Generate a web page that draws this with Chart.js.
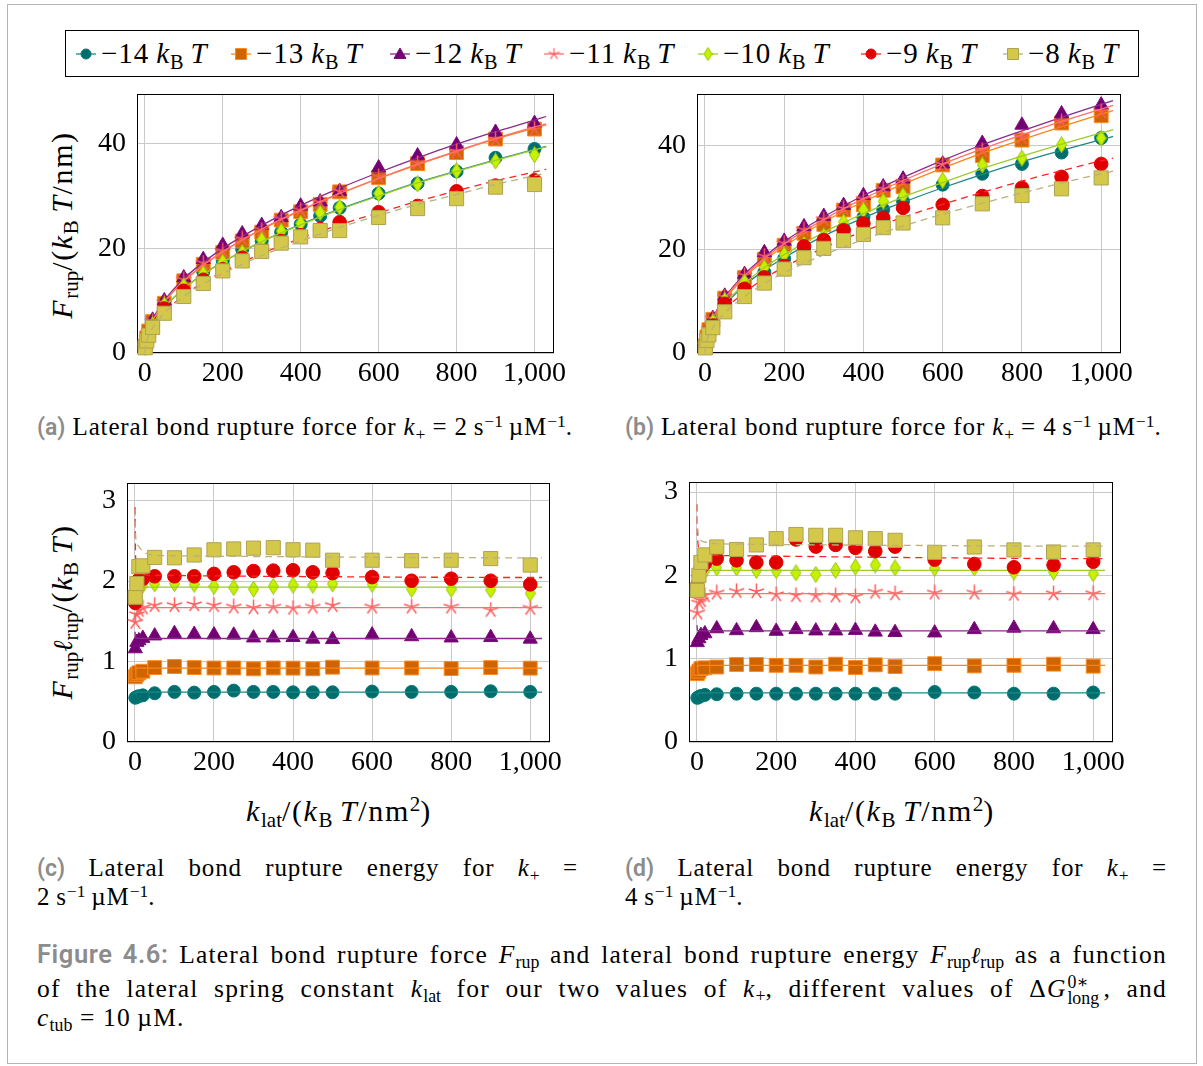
<!DOCTYPE html>
<html>
<head>
<meta charset="utf-8">
<script src="https://cdn.jsdelivr.net/npm/chart.js"></script>
<style>
  body { margin:0; width:1203px; height:1066px; position:relative; overflow:hidden; background:#fff;
         font-family:"Liberation Serif","DejaVu Serif",serif; color:#000; }
  .frame { position:absolute; left:7px; top:4px; width:1188px; height:1058px; border:1px solid #b4b4b4; }
  .legend { position:absolute; left:65px; top:30px; width:1072px; height:45px; border:1px solid #000; }
  .item { position:absolute; top:0; height:45px; display:flex; align-items:center; font-size:29px; letter-spacing:1px; white-space:nowrap; }
  .item canvas { margin-right:3px; }
  sub, sup { font-size:0.7em; line-height:0; position:relative; vertical-align:baseline; letter-spacing:0; }
  sub { top:0.3em; }
  sup { top:-0.48em; }
  .t { position:absolute; white-space:nowrap; }
  .ax { font-size:30px; line-height:36px; letter-spacing:1.6px; }
  .rot { transform:translate(-50%,-50%) rotate(-90deg); }
  .ctr { transform:translate(-50%,-50%); }
  .cap { font-size:25px; line-height:30px; letter-spacing:0.85px; }
  .fig { font-size:25.5px; letter-spacing:1.2px; }
  .just { text-align:justify; text-align-last:justify; }
  .lab { font-family:"Roboto","Liberation Sans",sans-serif; font-weight:600; color:#8c8c8c; font-size:0.92em; letter-spacing:0; }
  .fig .lab { font-size:1.0em; letter-spacing:0.6px; }
  .ell { font-family:"DejaVu Serif",serif; font-style:italic; font-size:0.9em; letter-spacing:0; }
  .grp { display:inline-block; }
  .stack { position:relative; display:inline-block; width:1.45em; height:1em; }
  .stack span { position:absolute; left:0.05em; font-size:0.7em; line-height:1; letter-spacing:0; }
</style>
</head>
<body>
<div class="frame"></div>
<div class="legend" id="legend"></div>

<!-- axis titles -->
<div class="t ax rot" style="left:62px;top:225px"><i>F</i><sub>rup</sub>/(<i>k</i><sub>B</sub>&#8201;<i>T</i>/nm)</div>
<div class="t ax rot" style="left:62px;top:612px"><i>F</i><sub>rup</sub><span class="ell">ℓ</span><sub>rup</sub>/(<i>k</i><sub>B</sub>&#8201;<i>T</i>)</div>
<div class="t ax ctr" style="left:339px;top:811px"><i>k</i><sub>lat</sub>/(<i>k</i><sub>B</sub>&#8201;<i>T</i>/nm<sup>2</sup>)</div>
<div class="t ax ctr" style="left:902px;top:811px"><i>k</i><sub>lat</sub>/(<i>k</i><sub>B</sub>&#8201;<i>T</i>/nm<sup>2</sup>)</div>

<!-- sub-captions -->
<div class="t cap" style="left:37px;top:412px"><span class="lab">(a)</span> Lateral bond rupture force for <i>k</i><sub>+</sub> = 2&#8201;s<sup>−1</sup>&#8201;µM<sup>−1</sup>.</div>
<div class="t cap" style="left:625px;top:412px"><span class="lab">(b)</span> Lateral bond rupture force for <i>k</i><sub>+</sub> = 4&#8201;s<sup>−1</sup>&#8201;µM<sup>−1</sup>.</div>
<div class="t cap just" style="left:37px;top:853px;width:541px"><span class="lab">(c)</span> Lateral bond rupture energy for <i>k</i><sub>+</sub> =</div>
<div class="t cap" style="left:37px;top:882px">2&#8201;s<sup>−1</sup>&#8201;µM<sup>−1</sup>.</div>
<div class="t cap just" style="left:625px;top:853px;width:542px"><span class="lab">(d)</span> Lateral bond rupture energy for <i>k</i><sub>+</sub> =</div>
<div class="t cap" style="left:625px;top:882px">4&#8201;s<sup>−1</sup>&#8201;µM<sup>−1</sup>.</div>

<!-- figure caption -->
<div class="t cap fig just" style="left:37px;top:939px;width:1130px"><span class="lab">Figure 4.6:</span> Lateral bond rupture force <i>F</i><sub>rup</sub> and lateral bond rupture energy <span class="grp"><i>F</i><sub>rup</sub><span class="ell">ℓ</span><sub>rup</sub></span> as a function</div>
<div class="t cap fig just" style="left:37px;top:971px;width:1130px">of the lateral spring constant <i>k</i><sub>lat</sub> for our two values of <i>k</i><sub>+</sub>, different values of <span class="grp">Δ<i>G</i><span class="stack"><span style="top:0.15em">0∗</span><span style="top:1.05em">long</span></span>,</span> and</div>
<div class="t cap fig" style="left:37px;top:1003px"><i>c</i><sub>tub</sub> = 10&#8201;µM.</div>

<script>
// ---------- data ----------
const kLat = [1, 5, 10, 20, 50, 100, 150, 200, 250, 300, 350, 400, 450, 500, 600, 700, 800, 900, 1000];
const freeEnergies = ['−14', '−13', '−12', '−11', '−10', '−9', '−8'];

// rupture force, k+ = 2 /s/µM  (rows: −14 … −8 kBT)
const forceA = [
  [1.1, 2.6, 3.7, 5.4, 9.0, 12.5, 15.5, 17.6, 19.8, 21.4, 23.1, 24.6, 26.2, 27.75, 30.5, 32.4, 34.7, 37.3, 39.0],
  [1.3, 2.9, 4.2, 6.0, 9.5, 13.8, 16.95, 19.2, 21.4, 23.1, 25.4, 27.0, 28.4, 30.8, 33.5, 36.2, 38.3, 40.9, 42.8],
  [1.4, 3.1, 4.4, 6.3, 10.0, 14.4, 17.9, 20.6, 22.8, 24.4, 25.9, 28.1, 28.9, 30.9, 35.4, 37.7, 39.8, 42.2, 43.9],
  [1.3, 2.9, 4.2, 6.1, 9.6, 14.0, 17.2, 19.5, 21.8, 23.5, 25.6, 27.3, 28.8, 30.9, 33.7, 36.3, 38.5, 40.8, 42.8],
  [1.1, 2.6, 3.7, 5.4, 9.2, 12.8, 15.2, 17.4, 19.2, 21.6, 23.3, 24.8, 26.8, 27.9, 30.5, 32.3, 34.8, 36.7, 37.9],
  [1.0, 2.4, 3.5, 5.0, 8.5, 11.9, 14.0, 16.0, 18.2, 19.5, 21.4, 22.5, 23.7, 25.0, 26.9, 28.1, 30.9, 32.0, 33.0],
  [1.0, 2.3, 3.4, 4.9, 7.6, 10.8, 13.3, 15.7, 17.6, 19.4, 21.0, 22.2, 23.4, 23.4, 25.9, 27.6, 29.5, 31.7, 32.2]
];
// rupture force, k+ = 4 /s/µM
const forceB = [
  [1.2, 2.8, 4.0, 5.8, 9.9, 12.9, 15.6, 18.2, 20.0, 21.7, 24.0, 26.2, 27.7, 29.3, 32.5, 34.6, 36.5, 38.7, 41.5],
  [1.4, 3.1, 4.5, 6.5, 10.6, 14.6, 18.1, 20.8, 23.1, 24.8, 27.6, 28.6, 31.4, 32.1, 36.3, 38.1, 41.1, 44.4, 45.8],
  [1.5, 3.3, 4.7, 6.7, 11.0, 15.2, 19.4, 21.6, 24.4, 26.4, 28.5, 30.4, 32.1, 33.6, 36.5, 40.5, 44.0, 46.2, 47.9],
  [1.45, 3.2, 4.6, 6.6, 10.8, 15.0, 18.7, 21.2, 23.8, 25.8, 27.9, 29.7, 31.7, 33.0, 36.4, 39.1, 41.6, 44.6, 46.6],
  [1.3, 2.9, 4.2, 6.0, 10.2, 13.7, 16.5, 19.0, 21.0, 22.6, 25.3, 27.6, 29.3, 30.4, 33.3, 36.3, 37.6, 40.2, 41.5],
  [1.2, 2.6, 3.7, 5.3, 9.5, 12.4, 14.6, 16.8, 20.6, 21.8, 23.7, 25.0, 26.1, 28.0, 28.6, 30.3, 31.9, 34.0, 36.5],
  [1.0, 2.4, 3.5, 4.9, 7.95, 10.9, 13.5, 16.2, 18.4, 20.2, 21.7, 22.9, 24.2, 25.1, 26.1, 28.8, 30.4, 31.7, 33.8]
];
// rupture energy, k+ = 2 /s/µM
const energyC = [
  [0.55, 0.56, 0.57, 0.58, 0.606, 0.623, 0.614, 0.623, 0.639, 0.623, 0.623, 0.618, 0.618, 0.618, 0.627, 0.623, 0.623, 0.631, 0.623],
  [0.81, 0.84, 0.86, 0.88, 0.925, 0.938, 0.925, 0.92, 0.92, 0.91, 0.92, 0.918, 0.91, 0.93, 0.92, 0.92, 0.913, 0.925, 0.918],
  [1.16, 1.24, 1.26, 1.29, 1.32, 1.35, 1.34, 1.333, 1.33, 1.295, 1.295, 1.30, 1.28, 1.275, 1.333, 1.31, 1.295, 1.30, 1.28],
  [1.49, 1.585, 1.64, 1.67, 1.70, 1.70, 1.71, 1.70, 1.68, 1.67, 1.68, 1.665, 1.68, 1.70, 1.68, 1.68, 1.68, 1.64, 1.665],
  [1.85, 1.92, 1.94, 1.95, 1.965, 1.97, 1.96, 1.935, 1.92, 1.90, 1.935, 1.95, 1.95, 1.965, 1.96, 1.90, 1.90, 1.89, 1.85],
  [1.73, 1.95, 2.02, 2.03, 2.06, 2.06, 2.06, 2.09, 2.11, 2.125, 2.13, 2.135, 2.11, 2.10, 2.05, 2.005, 2.03, 2.005, 1.96],
  [1.80, 1.97, 2.18, 2.19, 2.295, 2.29, 2.325, 2.39, 2.40, 2.41, 2.416, 2.39, 2.385, 2.26, 2.26, 2.254, 2.26, 2.28, 2.20]
];
// rupture energy, k+ = 4 /s/µM
const energyD = [
  [0.53, 0.54, 0.553, 0.565, 0.573, 0.58, 0.58, 0.58, 0.58, 0.58, 0.58, 0.58, 0.58, 0.58, 0.60, 0.594, 0.58, 0.58, 0.594],
  [0.82, 0.85, 0.88, 0.89, 0.90, 0.93, 0.93, 0.92, 0.92, 0.90, 0.934, 0.894, 0.926, 0.905, 0.94, 0.913, 0.92, 0.934, 0.91],
  [1.194, 1.24, 1.28, 1.30, 1.36, 1.337, 1.373, 1.33, 1.35, 1.334, 1.334, 1.34, 1.32, 1.315, 1.31, 1.35, 1.367, 1.36, 1.35],
  [1.55, 1.67, 1.70, 1.76, 1.79, 1.81, 1.806, 1.77, 1.76, 1.755, 1.755, 1.744, 1.80, 1.78, 1.79, 1.79, 1.775, 1.78, 1.78],
  [1.95, 2.02, 2.04, 2.05, 2.09, 2.09, 2.06, 2.056, 2.03, 2.01, 2.06, 2.10, 2.124, 2.09, 2.085, 2.09, 2.04, 2.04, 2.02],
  [1.88, 2.0, 2.085, 2.14, 2.20, 2.18, 2.155, 2.155, 2.43, 2.345, 2.365, 2.33, 2.29, 2.345, 2.188, 2.136, 2.097, 2.124, 2.164],
  [1.82, 2.0, 2.155, 2.245, 2.34, 2.31, 2.365, 2.44, 2.49, 2.48, 2.48, 2.45, 2.44, 2.42, 2.276, 2.34, 2.305, 2.28, 2.305]
];

// fitted curves
const fitKForce = [0, 2, 5, 10, 20, 50, 100, 150, 200, 300, 400, 500, 600, 700, 800, 900, 1000, 1030];
const fitForceA = [
  [0, 1.75, 2.75, 3.9, 5.5, 8.7, 12.3, 15.1, 17.4, 21.3, 24.6, 27.5, 30.1, 32.6, 34.8, 36.9, 38.9, 39.5],
  [0, 1.9, 3.1, 4.3, 6.1, 9.7, 13.7, 16.7, 19.3, 23.6, 27.2, 30.4, 33.3, 36.0, 38.5, 40.9, 43.0, 43.6],
  [0, 2.0, 3.2, 4.5, 6.4, 10.0, 14.2, 17.3, 20.0, 24.4, 28.2, 31.5, 34.5, 37.3, 39.9, 42.3, 44.5, 45.2],
  [0, 1.9, 3.1, 4.35, 6.15, 9.7, 13.8, 16.8, 19.4, 23.7, 27.3, 30.5, 33.4, 36.1, 38.6, 41.0, 43.2, 43.8],
  [0, 1.75, 2.75, 3.9, 5.5, 8.7, 12.3, 15.0, 17.4, 21.3, 24.5, 27.4, 30.0, 32.5, 34.7, 36.8, 38.8, 39.4],
  [0, 1.55, 2.45, 3.5, 4.9, 7.75, 11.0, 13.5, 15.5, 19.0, 21.9, 24.5, 26.8, 29.0, 31.0, 32.9, 34.6, 35.1],
  [0, 1.5, 2.4, 3.4, 4.8, 7.6, 10.8, 13.2, 15.2, 18.6, 21.4, 24.0, 26.3, 28.4, 30.3, 32.2, 33.9, 34.4]
];
const fitForceB = [
  [0, 1.85, 2.9, 4.1, 5.8, 9.2, 13.0, 16.0, 18.4, 22.6, 26.1, 29.1, 31.9, 34.5, 36.9, 39.1, 41.2, 41.8],
  [0, 2.05, 3.25, 4.6, 6.5, 10.3, 14.6, 17.9, 20.6, 25.3, 29.2, 32.6, 35.7, 38.6, 41.2, 43.7, 46.1, 46.8],
  [0, 2.15, 3.4, 4.8, 6.8, 10.7, 15.2, 18.6, 21.5, 26.3, 30.4, 33.9, 37.2, 40.2, 42.9, 45.5, 48.0, 48.7],
  [0, 2.1, 3.3, 4.7, 6.65, 10.5, 14.9, 18.25, 21.1, 25.8, 29.8, 33.3, 36.5, 39.4, 42.1, 44.7, 47.1, 47.8],
  [0, 1.9, 3.0, 4.25, 6.0, 9.5, 13.4, 16.5, 19.0, 23.3, 26.9, 30.1, 32.9, 35.6, 38.0, 40.3, 42.5, 43.1],
  [0, 1.65, 2.6, 3.7, 5.25, 8.3, 11.7, 14.4, 16.6, 20.3, 23.5, 26.2, 28.7, 31.0, 33.2, 35.2, 37.1, 37.6],
  [0, 1.55, 2.45, 3.45, 4.9, 7.75, 10.9, 13.4, 15.5, 18.95, 21.9, 24.5, 26.8, 28.9, 30.9, 32.8, 34.6, 35.1]
];
const fitKEnergy = [0.5, 1, 2, 5, 10, 20, 50, 100, 200, 500, 1000, 1030];
const fitEnergyC = [
  [0.60, 0.61, 0.615, 0.62, 0.62, 0.62, 0.62, 0.62, 0.62, 0.62, 0.62, 0.62],
  [0.90, 0.91, 0.915, 0.918, 0.918, 0.918, 0.918, 0.918, 0.918, 0.918, 0.918, 0.918],
  [1.37, 1.31, 1.295, 1.29, 1.288, 1.287, 1.287, 1.287, 1.287, 1.287, 1.287, 1.287],
  [1.75, 1.69, 1.68, 1.675, 1.672, 1.67, 1.67, 1.67, 1.67, 1.67, 1.67, 1.67],
  [2.0, 1.95, 1.935, 1.93, 1.927, 1.925, 1.925, 1.925, 1.925, 1.925, 1.925, 1.925],
  [2.92, 2.55, 2.27, 2.13, 2.09, 2.08, 2.07, 2.07, 2.065, 2.055, 2.045, 2.045],
  [2.9, 2.72, 2.56, 2.47, 2.43, 2.37, 2.32, 2.315, 2.31, 2.30, 2.29, 2.29]
];
const fitEnergyD = [
  [0.56, 0.575, 0.585, 0.59, 0.59, 0.59, 0.59, 0.59, 0.59, 0.59, 0.59, 0.59],
  [0.90, 0.91, 0.915, 0.92, 0.92, 0.92, 0.92, 0.92, 0.92, 0.92, 0.92, 0.92],
  [1.40, 1.35, 1.34, 1.336, 1.335, 1.334, 1.334, 1.334, 1.334, 1.334, 1.334, 1.334],
  [1.82, 1.79, 1.785, 1.782, 1.78, 1.78, 1.78, 1.78, 1.78, 1.78, 1.78, 1.78],
  [2.10, 2.07, 2.065, 2.062, 2.06, 2.06, 2.06, 2.06, 2.06, 2.06, 2.06, 2.06],
  [2.85, 2.55, 2.42, 2.31, 2.27, 2.25, 2.24, 2.235, 2.23, 2.215, 2.2, 2.2],
  [2.85, 2.7, 2.56, 2.46, 2.42, 2.40, 2.38, 2.375, 2.37, 2.36, 2.35, 2.35]
];

const forceTicksY = [0, 20, 40];
const energyTicksY = [0, 1, 2, 3];
const kTicks = [0, 200, 400, 600, 800, 1000];

// ---------- marker shapes ----------
function starMark(size, color, lw) {
  const c = document.createElement('canvas');
  c.width = c.height = size;
  const g = c.getContext('2d');
  g.strokeStyle = color; g.lineWidth = lw; g.lineCap = 'butt';
  const r = size / 2 - 0.5, m = size / 2;
  g.beginPath();
  for (let k = 0; k < 5; k++) {
    const a = -Math.PI / 2 + k * 2 * Math.PI / 5;
    g.moveTo(m, m); g.lineTo(m + r * Math.cos(a), m + r * Math.sin(a));
  }
  g.stroke();
  return c;
}
function diamondMark(w, h, fill, stroke) {
  const c = document.createElement('canvas');
  c.width = w; c.height = h;
  const g = c.getContext('2d');
  g.beginPath();
  g.moveTo(w / 2, 0.5); g.lineTo(w - 0.5, h / 2); g.lineTo(w / 2, h - 0.5); g.lineTo(0.5, h / 2); g.closePath();
  g.fillStyle = fill; g.fill(); g.strokeStyle = stroke; g.lineWidth = 1; g.stroke();
  return c;
}

const styles = [
  { shape: 'circle',   r: 6.5, fill: '#006c6c', stroke: '#007b7b', line: '#1d8787', dash: [] },
  { shape: 'rect',     r: 9.8, fill: '#cf6500', stroke: '#ff8a1e', line: '#ff8410', dash: [] },
  { shape: 'triangle', r: 8.2, fill: '#720072', stroke: '#7e0a7e', line: '#8a2a8a', dash: [] },
  { shape: 'star',     r: 8,   fill: '#ff5c5c', stroke: '#ff5c5c', line: '#ff7070', dash: [] },
  { shape: 'diamond',  r: 8,   fill: '#c6f200', stroke: '#93c400', line: '#9ccc2a', dash: [] },
  { shape: 'circle',   r: 6.8, fill: '#e00000', stroke: '#e50000', line: '#ff2222', dash: [7, 5] },
  { shape: 'rect',     r: 10,  fill: '#d4c84a', stroke: '#aea252', line: '#bab17c', dash: [7, 5] }
];
function pointStyleFor(s) {
  if (s.shape === 'star') return starMark(17, s.stroke, 1.5);
  if (s.shape === 'diamond') return diamondMark(11, 17, s.fill, s.stroke);
  return s.shape;
}

// ---------- panels ----------
const serifFont = '"Liberation Serif", "DejaVu Serif", serif';
const frameBox = {
  id: 'frameBox',
  beforeDatasetsDraw(chart) {
    const a = chart.chartArea, g = chart.ctx;
    g.save();
    g.strokeStyle = '#000'; g.lineWidth = 1;
    g.strokeRect(Math.round(a.left) + 0.5, Math.round(a.top) + 0.5,
                 Math.round(a.right - a.left) - 1, Math.round(a.bottom - a.top) - 1);
    g.restore();
  }
};

function panel(area, yMax, yTicks, marks, fitK, fits) {
  const padL = 80, padT = 14, padR = 30, padB = 46;
  const w = area.r - area.l + padL + padR;
  const h = area.b - area.t + padT + padB;
  const cv = document.createElement('canvas');
  cv.width = w; cv.height = h;
  cv.style.cssText = `position:absolute;left:${area.l - padL}px;top:${area.t - padT}px;width:${w}px;height:${h}px`;
  document.body.appendChild(cv);

  const datasets = [];
  let n = 0;
  styles.forEach((s, i) => {
    datasets.push({
      type: 'scatter',
      label: freeEnergies[i],
      data: kLat.map((x, j) => ({ x, y: marks[i][j] })),
      pointStyle: pointStyleFor(s),
      pointRadius: s.r,
      pointHoverRadius: s.r,
      pointBackgroundColor: s.fill,
      pointBorderColor: s.stroke,
      pointBorderWidth: 1,
      showLine: false,
      clip: false,
      order: 1000 - n++
    });
    datasets.push({
      type: 'line',
      label: freeEnergies[i] + ' fit',
      data: fitK.map((x, j) => ({ x, y: fits[i][j] })),
      borderColor: s.line,
      borderWidth: 1.3,
      borderDash: s.dash,
      pointRadius: 0,
      fill: false,
      cubicInterpolationMode: 'monotone',
      order: 1000 - n++
    });
  });

  new Chart(cv, {
    type: 'scatter',
    data: { datasets },
    plugins: [frameBox],
    options: {
      responsive: false, animation: false, devicePixelRatio: 1,
      layout: { padding: { left: 0, top: padT, right: padR, bottom: 0 } },
      plugins: { legend: { display: false }, tooltip: { enabled: false } },
      scales: {
        x: {
          type: 'linear', min: -20, max: 1050,
          afterFit(s) { s.height = padB; s.paddingLeft = 0; s.paddingRight = 0; },
          afterBuildTicks(s) { s.ticks = kTicks.map(v => ({ value: v })); },
          grid: { color: '#c9c9c9', lineWidth: 1, drawTicks: false },
          border: { display: false },
          ticks: { padding: 4, color: '#000', font: { family: serifFont, size: 28 }, maxRotation: 0, autoSkip: false,
                   callback: v => v.toLocaleString('en-US') }
        },
        y: {
          type: 'linear', min: 0, max: yMax,
          afterFit(s) { s.width = padL; s.paddingTop = 0; s.paddingBottom = 0; },
          afterBuildTicks(s) { s.ticks = yTicks.map(v => ({ value: v })); },
          grid: { color: '#c9c9c9', lineWidth: 1, drawTicks: false },
          border: { display: false },
          ticks: { padding: 11, color: '#000', font: { family: serifFont, size: 28 }, autoSkip: false }
        }
      }
    }
  });
}

panel({ l: 137, t: 94, r: 554, b: 353 }, 49.5, forceTicksY, forceA, fitKForce, fitForceA);
panel({ l: 697, t: 94, r: 1121, b: 353 }, 50, forceTicksY, forceB, fitKForce, fitForceB);
panel({ l: 127, t: 483, r: 550, b: 742 }, 3.22, energyTicksY, energyC, fitKEnergy, fitEnergyC);
panel({ l: 689, t: 482, r: 1113, b: 742 }, 3.12, energyTicksY, energyD, fitKEnergy, fitEnergyD);

// ---------- legend ----------
const legendX = [85, 240, 399, 553, 707, 870, 1012];
const legendBox = document.getElementById('legend');
styles.forEach((s, i) => {
  const item = document.createElement('div');
  item.className = 'item';
  item.style.left = (legendX[i] - 65 - 12) + 'px';
  const c = document.createElement('canvas');
  c.width = 24; c.height = 24;
  const g = c.getContext('2d');
  g.strokeStyle = s.line; g.lineWidth = 1.3;
  g.beginPath(); g.moveTo(2, 12); g.lineTo(22, 12); g.stroke();
  g.fillStyle = s.fill; g.strokeStyle = s.stroke; g.lineWidth = 1;
  g.beginPath();
  if (s.shape === 'circle') { g.arc(12, 12, 5, 0, 2 * Math.PI); g.fill(); g.stroke(); }
  else if (s.shape === 'rect') { g.rect(6.5, 6.5, 11, 11); g.fill(); g.stroke(); }
  else if (s.shape === 'triangle') { g.moveTo(12, 6); g.lineTo(18, 16.5); g.lineTo(6, 16.5); g.closePath(); g.fill(); g.stroke(); }
  else if (s.shape === 'star') { g.drawImage(starMark(13, s.stroke, 1.2), 5.5, 5.5); }
  else if (s.shape === 'diamond') { g.drawImage(diamondMark(9, 14, s.fill, s.stroke), 7.5, 5); }
  item.appendChild(c);
  const txt = document.createElement('span');
  txt.innerHTML = freeEnergies[i] + '&#8201;<i>k</i><sub>B</sub>&#8201;<i>T</i>';
  item.appendChild(txt);
  legendBox.appendChild(item);
});
</script>
</body>
</html>
